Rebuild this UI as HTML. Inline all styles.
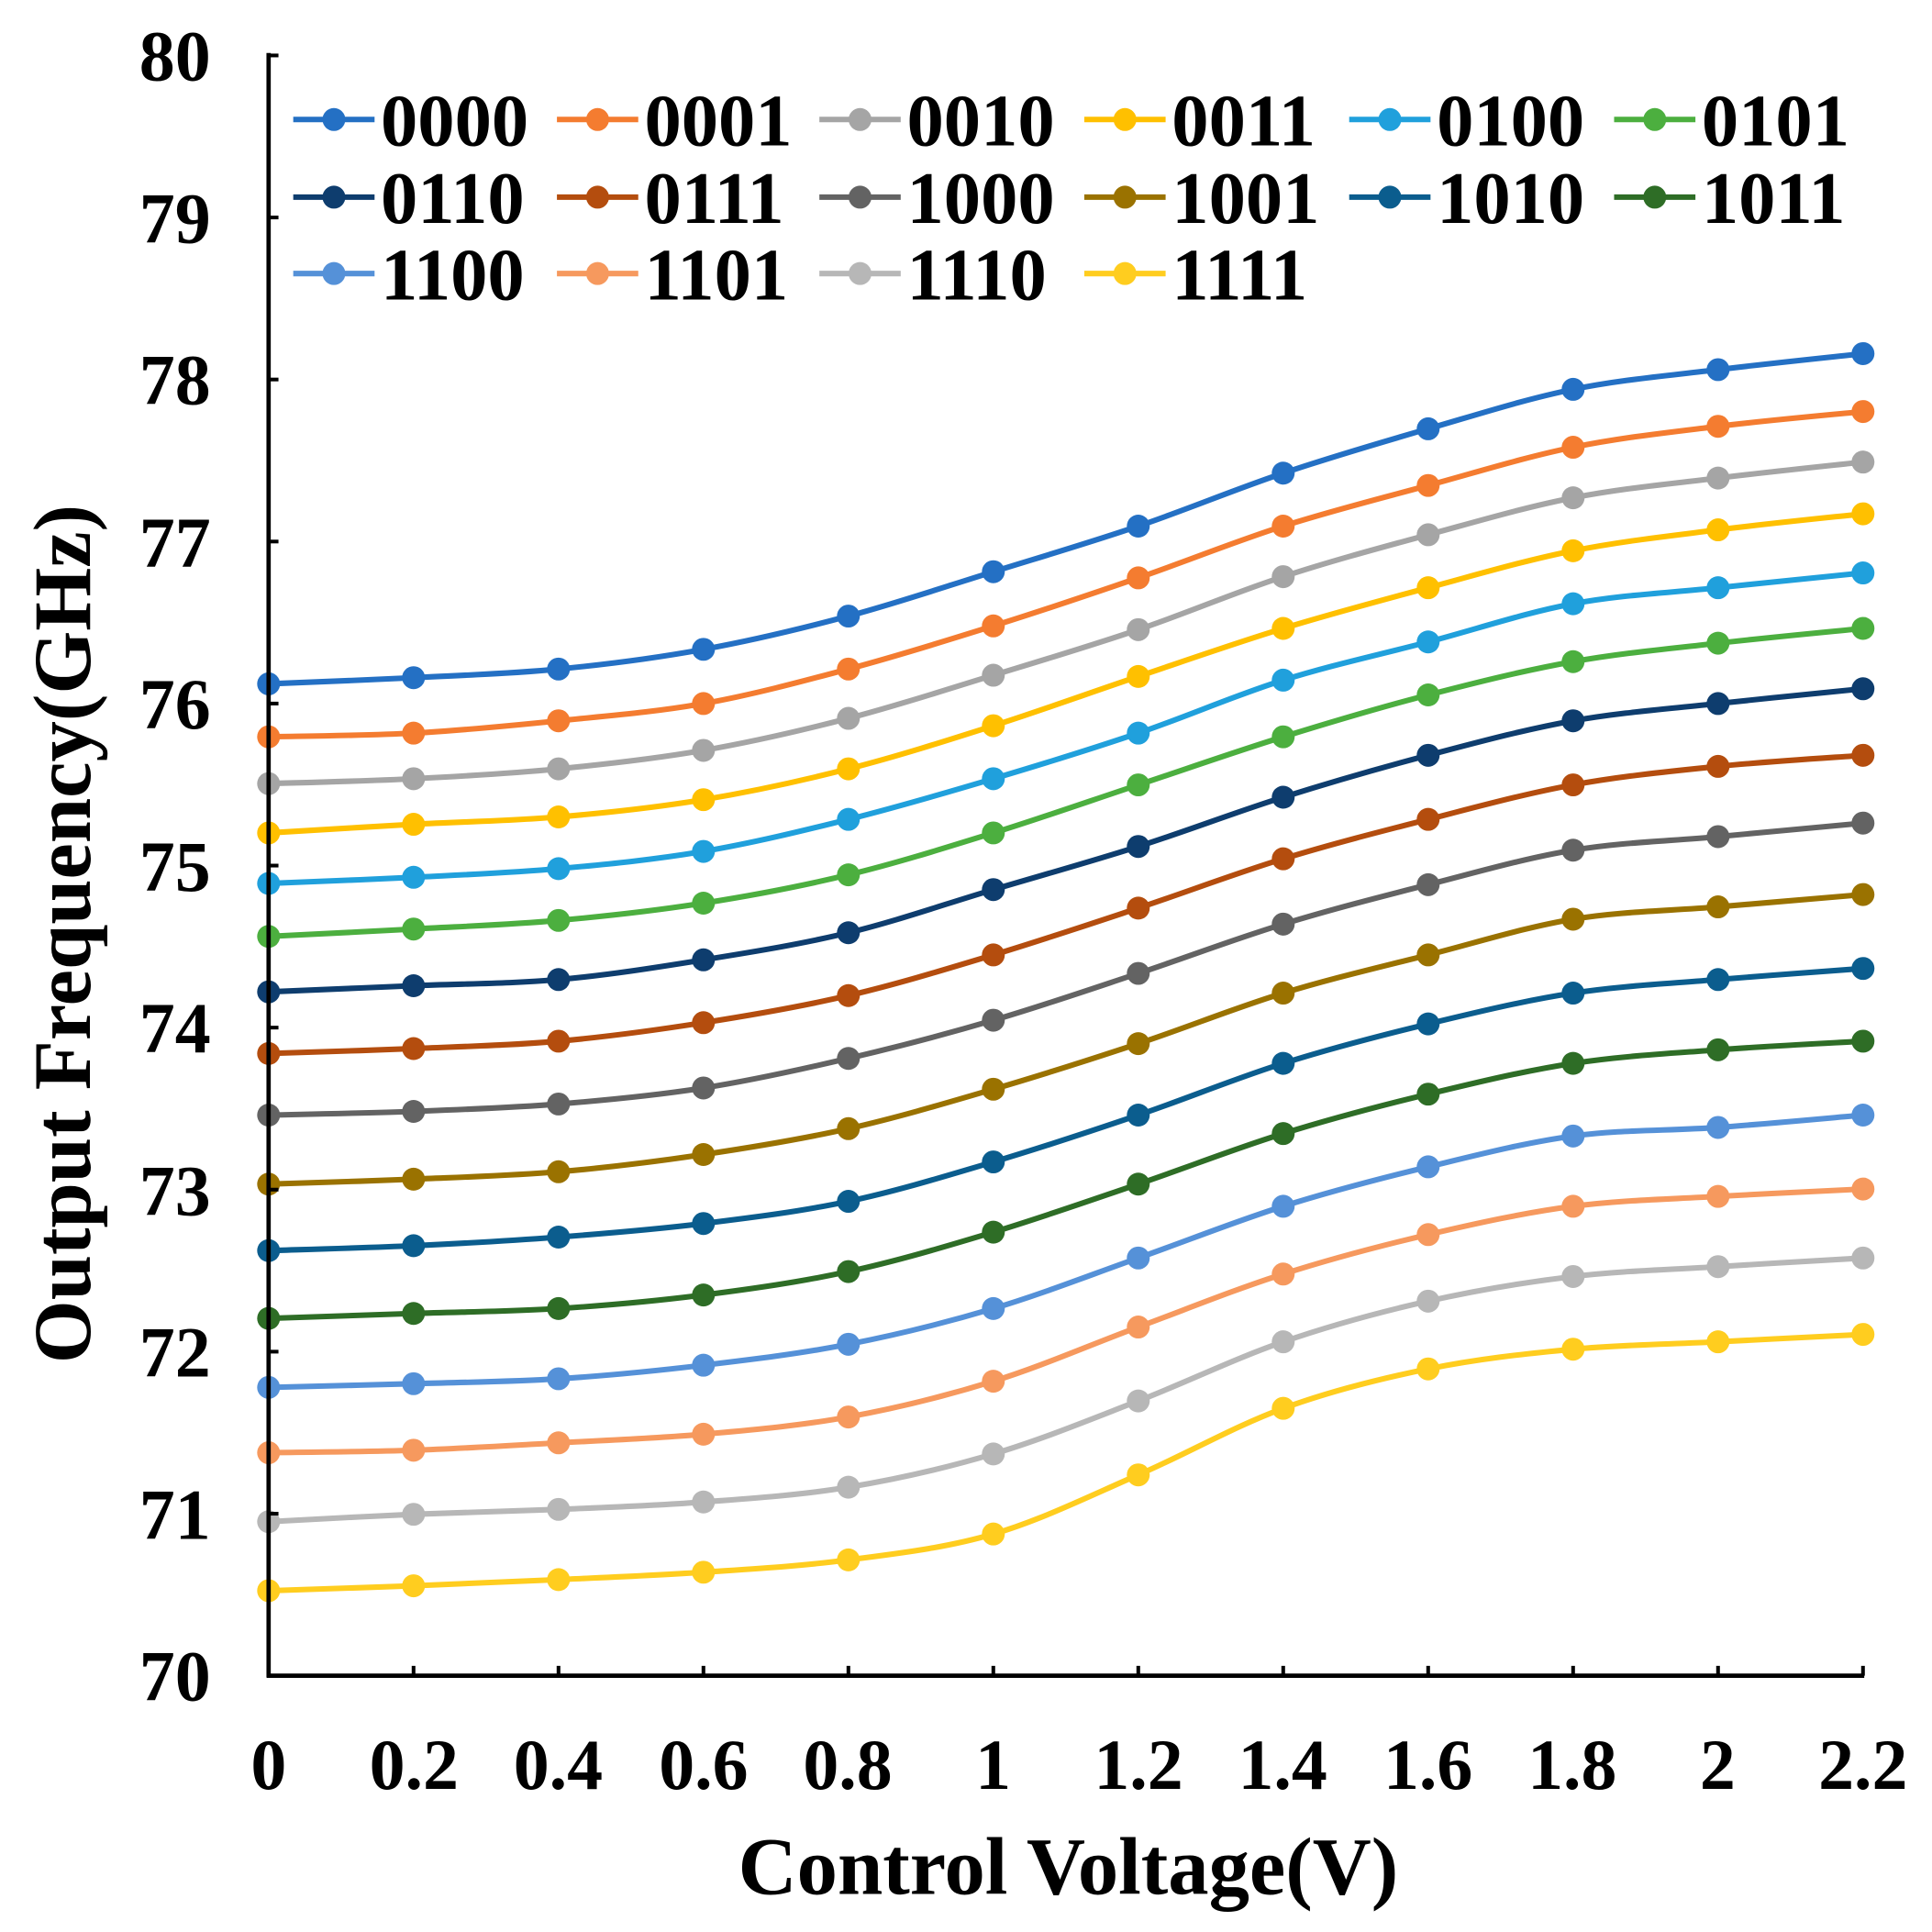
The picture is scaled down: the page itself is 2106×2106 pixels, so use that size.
<!DOCTYPE html>
<html><head><meta charset="utf-8"><style>
html,body{margin:0;padding:0;background:#fff;}
svg{display:block;}
text{font-family:"Liberation Serif",serif;font-weight:bold;fill:#000;}
</style></head><body>
<svg id="s" width="2106" height="2106" viewBox="0 0 1568 1568" xmlns="http://www.w3.org/2000/svg">
<rect width="1568" height="1568" fill="#fff"/>
<g id="plot"></g>
<line x1="218" y1="43" x2="218" y2="1361.5" stroke="#000" stroke-width="3.5"/>
<line x1="216.5" y1="1360" x2="1513" y2="1360" stroke="#000" stroke-width="3.5"/>
<g id="ticks" stroke="#000" stroke-width="3"></g>
<g font-size="58" text-anchor="end">
<text x="171" y="1380">70</text><text x="171" y="1249">71</text><text x="171" y="1117">72</text><text x="171" y="986">73</text><text x="171" y="854">74</text><text x="171" y="723">75</text><text x="171" y="591">76</text><text x="171" y="460">77</text><text x="171" y="328">78</text><text x="171" y="197">79</text><text x="171" y="65">80</text>
</g>
<g font-size="58" text-anchor="middle">
<text x="218" y="1452">0</text><text x="336" y="1452">0.2</text><text x="453" y="1452">0.4</text><text x="571" y="1452">0.6</text><text x="688" y="1452">0.8</text><text x="806" y="1452">1</text><text x="924" y="1452">1.2</text><text x="1041" y="1452">1.4</text><text x="1159" y="1452">1.6</text><text x="1276" y="1452">1.8</text><text x="1394" y="1452">2</text><text x="1512" y="1452">2.2</text>
</g>
<text x="867" y="1537" font-size="66" text-anchor="middle">Control Voltage(V)</text>
<text transform="translate(73,758) rotate(-90)" font-size="66" text-anchor="middle">Output Frequency(GHz)</text>
<g id="legend"></g>
<g font-size="60">
<text x="309" y="118">0000</text><text x="523" y="118">0001</text><text x="736" y="118">0010</text><text x="951" y="118">0011</text><text x="1166" y="118">0100</text><text x="1381" y="118">0101</text>
<text x="309" y="181">0110</text><text x="523" y="181">0111</text><text x="736" y="181">1000</text><text x="951" y="181">1001</text><text x="1166" y="181">1010</text><text x="1381" y="181">1011</text>
<text x="309" y="243">1100</text><text x="523" y="243">1101</text><text x="736" y="243">1110</text><text x="951" y="243">1111</text>
</g>
</svg>
<script>
var NS="http://www.w3.org/2000/svg";
var cols=["#2470c4","#f47c30","#a5a5a5","#ffc000","#20a0dc","#4caf3f","#0e3d6e","#b44d0e","#636363","#9a7200","#0b5d8e","#2e6d26","#5591d8","#f6995e","#b7b7b7","#ffcd1f"];
var D=[
[555,550,543,527,500,464,427,384,348,316,300,287],
[598,595,585,571,543,508,469,427,394,363,346,334],
[636,632,624,609,583,548,511,468,434,404,388,375],
[676,669,663,649,624,589,549,510,477,447,430,417],
[717,712,705,691,665,632,595,552,521,490,477,465],
[760,754,747,733,710,676,637,598,564,537,522,510],
[805,800,795,779,757,722,687,647,613,585,571,559],
[855,851,845,830,808,775,737,697,665,637,622,613],
[905,902,896,883,859,828,790,750,718,690,679,668],
[961,957,951,937,916,884,847,806,775,746,736,726],
[1015,1011,1004,993,975,943,905,863,831,806,795,786],
[1070,1066,1062,1051,1032,1000,961,920,888,863,852,845],
[1126,1123,1119,1108,1091,1062,1021,979,947,922,915,905],
[1179,1177,1171,1164,1150,1121,1077,1034,1002,979,971,965],
[1235,1229,1225,1219,1207,1180,1137,1089,1056,1036,1028,1021],
[1291,1287,1282,1276,1266,1245,1197,1143,1111,1095,1089,1083]];
function X(i){return 218+i*(1294/11);}
var plot=document.getElementById("plot");
function el(n,a,p){var e=document.createElementNS(NS,n);for(var k in a)e.setAttribute(k,a[k]);p.appendChild(e);return e;}
for(var s=0;s<16;s++){
 var y=D[s],P=[];for(var i=0;i<12;i++)P.push([X(i),y[i]]);
 var d="M"+P[0][0]+","+P[0][1];
 for(var i=0;i<11;i++){
  var p0=P[Math.max(i-1,0)],p1=P[i],p2=P[i+1],p3=P[Math.min(i+2,11)];
  var t=6;
  d+=" C"+(p1[0]+(p2[0]-p0[0])/t)+","+(p1[1]+(p2[1]-p0[1])/t)+" "+(p2[0]-(p3[0]-p1[0])/t)+","+(p2[1]-(p3[1]-p1[1])/t)+" "+p2[0]+","+p2[1];
 }
 el("path",{d:d,fill:"none",stroke:cols[s],"stroke-width":4.5},plot);
 for(var i=0;i<12;i++)el("circle",{cx:P[i][0],cy:P[i][1],r:9.3,fill:cols[s]},plot);
}
var tk=document.getElementById("ticks");
for(var v=0;v<=10;v++){var yy=1360-v*131.5;el("line",{x1:218,x2:226,y1:yy,y2:yy},tk);}
for(var i=1;i<12;i++){el("line",{x1:X(i),x2:X(i),y1:1360,y2:1352},tk);}
var lg=document.getElementById("legend");
var cx=[238,452,665,880,1095,1310],ry=[97,160,222];
for(var s=0;s<16;s++){var c=cx[s%6],r=ry[Math.floor(s/6)];
 el("line",{x1:c,x2:c+66,y1:r,y2:r,stroke:cols[s],"stroke-width":4.5},lg);
 el("circle",{cx:c+33,cy:r,r:9.3,fill:cols[s]},lg);}
</script>
</body></html>
